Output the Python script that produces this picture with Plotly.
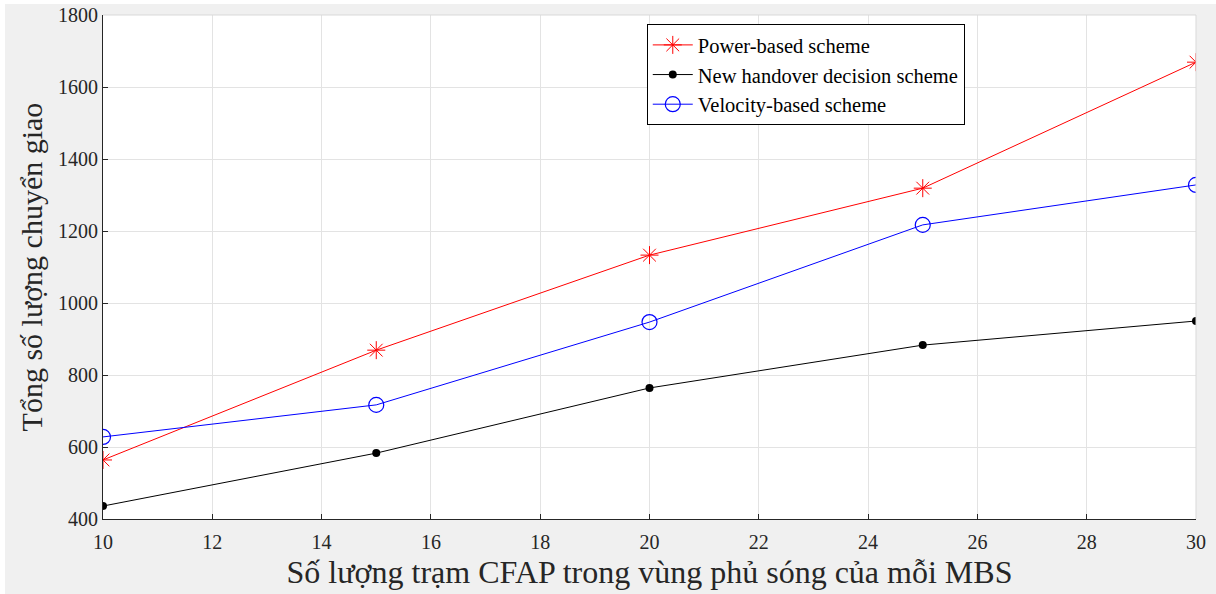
import plotly.graph_objects as go

x_vals = [10, 15, 20, 25, 30]
power_based = [564, 869, 1133, 1319, 1669]
new_handover = [436, 583, 764, 883, 950]
velocity_based = [628, 717, 947, 1217, 1328]

x_ticks = [10, 12, 14, 16, 18, 20, 22, 24, 26, 28, 30]
y_ticks = [400, 600, 800, 1000, 1200, 1400, 1600, 1800]

FONT = "Liberation Serif, Times New Roman, serif"
TXT = "#262626"

fig = go.Figure()
fig.add_trace(go.Scatter(
    x=x_vals, y=power_based, mode="lines+markers", name="Power-based scheme",
    line=dict(color="#ff0000", width=1),
    marker=dict(symbol="asterisk-open", size=15, color="#ff0000", line=dict(color="#ff0000", width=1)),
))
fig.add_trace(go.Scatter(
    x=x_vals, y=new_handover, mode="lines+markers", name="New handover decision scheme",
    line=dict(color="#000000", width=1),
    marker=dict(symbol="circle", size=8, color="#000000"),
))
fig.add_trace(go.Scatter(
    x=x_vals, y=velocity_based, mode="lines+markers", name="Velocity-based scheme",
    line=dict(color="#0000ff", width=1),
    marker=dict(symbol="circle-open", size=15, color="#0000ff", line=dict(color="#0000ff", width=1.2)),
))

fig.update_layout(
    width=1211, height=590,
    paper_bgcolor="#f0f0f0", plot_bgcolor="#ffffff",
    margin=dict(l=98, r=20, t=11, b=75, autoexpand=False),
    font=dict(family=FONT, size=20, color=TXT),
    showlegend=True,
    legend=dict(
        x=0.4975, y=0.982, xanchor="left", yanchor="top",
        bgcolor="#ffffff", bordercolor="#000000", borderwidth=1,
        font=dict(family=FONT, size=20.5, color="#000000"),
        tracegroupgap=0, itemwidth=40,
    ),
)
fig.update_xaxes(
    range=[10, 30], tickvals=x_ticks, ticktext=[str(v) for v in x_ticks],
    showgrid=True, gridcolor="#e3e3e3", gridwidth=1,
    showline=True, linecolor=TXT, linewidth=1,
    ticks="inside", ticklen=5, tickcolor=TXT,
    zeroline=False, automargin=False, ticklabelstandoff=5,
    title=dict(text="Số lượng trạm CFAP trong vùng phủ sóng của mỗi MBS",
               font=dict(family=FONT, size=32, color=TXT), standoff=8),
    tickfont=dict(family=FONT, size=20, color=TXT),
)
fig.update_yaxes(
    range=[400, 1800], tickvals=y_ticks, ticktext=[str(v) for v in y_ticks],
    showgrid=True, gridcolor="#e3e3e3", gridwidth=1,
    showline=True, linecolor=TXT, linewidth=1,
    ticks="inside", ticklen=5, tickcolor=TXT,
    zeroline=False, automargin=False,
    title=dict(text="Tổng số lượng chuyển giao",
               font=dict(family=FONT, size=30, color=TXT), standoff=6),
    tickfont=dict(family=FONT, size=20, color=TXT),
)
fig.add_shape(type="line", xref="paper", yref="paper", x0=0, x1=1, y0=1, y1=1,
              line=dict(color="#d9d9d9", width=1))
fig.add_shape(type="line", xref="paper", yref="paper", x0=1, x1=1, y0=0, y1=1,
              line=dict(color="#d9d9d9", width=1))

fig.write_html("out.html", config={"displayModeBar": False},
               post_script="document.body.style.margin='4px 0 0 5px';document.body.style.background='#ffffff';")
